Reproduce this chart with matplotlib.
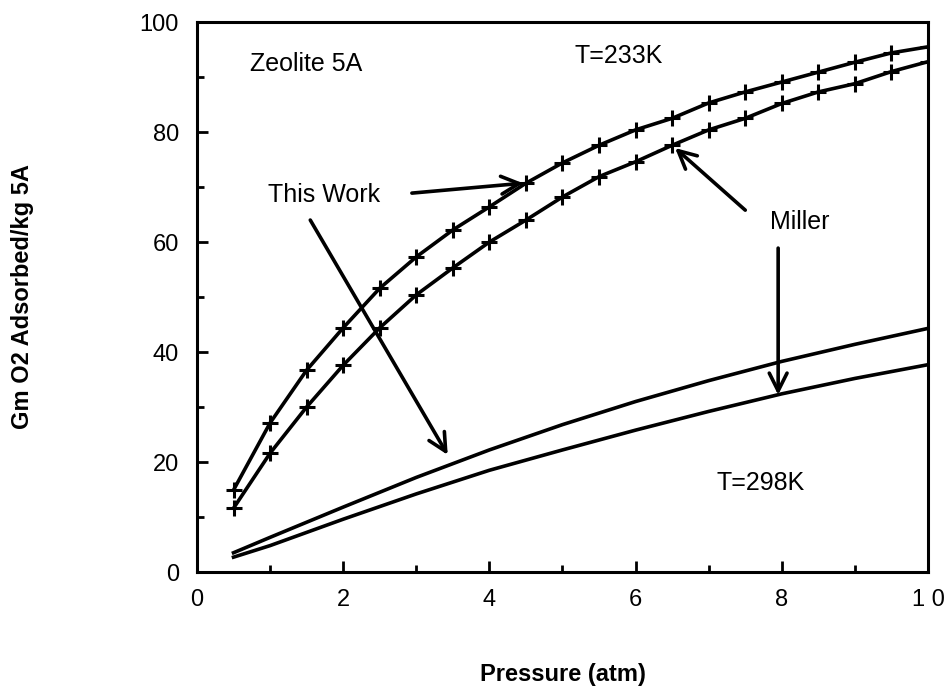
import matplotlib
matplotlib.use("Agg")
import matplotlib.pyplot as plt
from matplotlib.ticker import MultipleLocator

plt.rcParams['font.family'] = ['Liberation Sans', 'DejaVu Sans']

# 233K, sampled every 0.5 atm (the + marks)
p233 = [0.5, 1.0, 1.5, 2.0, 2.5, 3.0, 3.5, 4.0, 4.5, 5.0,
        5.5, 6.0, 6.5, 7.0, 7.5, 8.0, 8.5, 9.0, 9.5, 10.0]
work233 = [14.9, 27.1, 36.7, 44.4, 51.6, 57.3, 62.2, 66.4, 70.7, 74.4,
           77.6, 80.4, 82.5, 85.3, 87.3, 89.1, 90.9, 92.7, 94.4, 95.5]
miller233 = [11.6, 21.6, 30.0, 37.6, 44.4, 50.4, 55.3, 60.0, 64.0, 68.2,
             71.9, 74.6, 77.6, 80.4, 82.5, 85.2, 87.3, 88.8, 91.0, 92.8]

# 298K, smooth curves without marks
p298 = [0.5, 1, 2, 3, 4, 5, 6, 7, 8, 9, 10]
work298 = [3.5, 6.3, 11.8, 17.2, 22.2, 26.8, 31.0, 34.8, 38.3, 41.4, 44.3]
miller298 = [2.7, 4.8, 9.6, 14.2, 18.5, 22.2, 25.8, 29.2, 32.4, 35.2, 37.7]

xticks = [0, 2, 4, 6, 8, 10]
xtick_labels = ['0', '2', '4', '6', '8', '1 0']
yticks = [0, 20, 40, 60, 80, 100]

fig = plt.figure(figsize=(9.46, 6.9), dpi=100)
ax = fig.add_axes([0.2082, 0.171, 0.7728, 0.797])

ax.plot(p233, work233, color='black', lw=2.6, marker='+', ms=11, mew=2.2)
ax.plot(p233, miller233, color='black', lw=2.6, marker='+', ms=11, mew=2.2)
ax.plot(p298, work298, color='black', lw=2.6)
ax.plot(p298, miller298, color='black', lw=2.6)

ax.set_xlim(0, 10)
ax.set_ylim(0, 100)
ax.set_xticks(xticks)
ax.set_xticklabels(xtick_labels)
ax.set_yticks(yticks)
ax.xaxis.set_minor_locator(MultipleLocator(1))
ax.yaxis.set_minor_locator(MultipleLocator(10))
ax.tick_params(which='both', direction='in', top=False, right=False,
               width=2, labelsize=17)
ax.tick_params(which='major', length=8)
ax.tick_params(which='minor', length=5)
ax.tick_params(axis='x', pad=12)
ax.tick_params(axis='y', pad=13)
for s in ax.spines.values():
    s.set_linewidth(2.2)

ax.set_xlabel('Pressure (atm)', fontsize=17, fontweight='bold', labelpad=38)
ax.set_ylabel('Gm O2 Adsorbed/kg 5A', fontsize=17, fontweight='bold', labelpad=76)

ax.text(0.725, 92.4, 'Zeolite 5A', fontsize=18, va='center', ha='left')
ax.text(5.17, 93.8, 'T=233K', fontsize=18, va='center', ha='left')
ax.text(7.11, 16.2, 'T=298K', fontsize=18, va='center', ha='left')
ax.text(0.97, 68.5, 'This Work', fontsize=18, va='center', ha='left')
ax.text(7.84, 63.6, 'Miller', fontsize=18, va='center', ha='left')

arrow = dict(arrowstyle='->', lw=2.6, color='black', mutation_scale=32,
             shrinkA=0, shrinkB=0)
ax.annotate('', xy=(4.46, 70.7), xytext=(2.94, 68.9), arrowprops=arrow)
ax.annotate('', xy=(3.43, 21.3), xytext=(1.55, 64.0), arrowprops=arrow)
ax.annotate('', xy=(6.54, 77.1), xytext=(7.5, 65.8), arrowprops=arrow)
ax.annotate('', xy=(7.95, 32.2), xytext=(7.95, 58.9), arrowprops=arrow)

fig.savefig('out.png', dpi=100)
